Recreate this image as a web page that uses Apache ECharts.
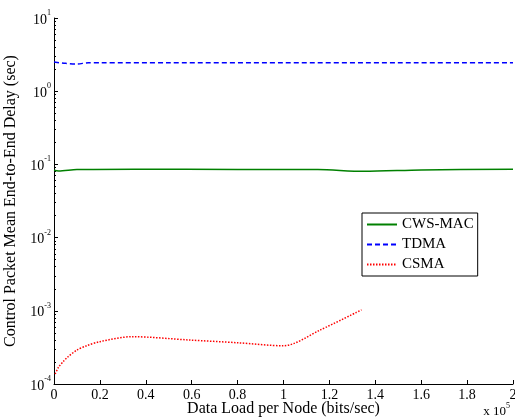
<!DOCTYPE html>
<html>
<head>
<meta charset="utf-8">
<script src="https://cdn.jsdelivr.net/npm/echarts@6/dist/echarts.min.js"></script>
<style>
  html, body { margin: 0; padding: 0; background: #fff; }
  #chart { width: 515px; height: 420px; }
</style>
</head>
<body>
<div id="chart"></div>
<script>
  // x values are in units of 1e5 bits/sec (axis shows "x 10^5")
  var xTicks = [0, 0.2, 0.4, 0.6, 0.8, 1, 1.2, 1.4, 1.6, 1.8, 2];
  var yExponents = [-4, -3, -2, -1, 0, 1];

  var cwsX = [0, 0.02, 0.1, 0.35, 0.8, 1.15, 1.35, 1.6, 2];
  var cwsY = [0.083, 0.081, 0.085, 0.086, 0.0855, 0.085, 0.0805, 0.084, 0.086];

  var tdmaX = [0, 0.05, 0.1, 0.15, 0.2, 0.5, 1, 1.5, 2];
  var tdmaY = [2.5, 2.4, 2.35, 2.45, 2.45, 2.45, 2.45, 2.45, 2.45];

  var csmaX = [0.005, 0.02, 0.04, 0.06, 0.1, 0.14, 0.2, 0.34, 0.59, 0.8, 1, 1.16, 1.34];
  var csmaY = [0.000137, 0.00017, 0.000202, 0.000234, 0.000291, 0.000331, 0.000379, 0.000443, 0.000399, 0.000366, 0.000333, 0.000547, 0.00103];

  function pairs(xs, ys) {
    var out = [];
    for (var i = 0; i < xs.length; i++) out.push([xs[i], ys[i]]);
    return out;
  }

  var font = '"Liberation Serif", "DejaVu Serif", serif';

  var myChart = echarts.init(document.getElementById('chart'));

  myChart.setOption({
    backgroundColor: '#ffffff',
    animation: false,
    textStyle: { fontFamily: font },
    grid: { left: 54, right: 2, top: 18, bottom: 36, outerBoundsMode: 'none', containLabel: false },
    legend: {
      orient: 'vertical',
      left: 362,
      top: 213,
      padding: [4, 4, 4, 4],
      itemWidth: 30,
      itemHeight: 10,
      itemGap: 5,
      borderColor: '#000',
      borderWidth: 1,
      backgroundColor: '#fff',
      itemStyle: { opacity: 0 },
      textStyle: { fontFamily: font, fontSize: 15, color: '#000' },
      data: ['CWS-MAC', 'TDMA', 'CSMA']
    },
    xAxis: {
      type: 'value',
      min: 0,
      max: 2,
      interval: 0.2,
      name: 'Data Load per Node (bits/sec)',
      nameLocation: 'middle',
      nameGap: 17,
      nameMoveOverlap: false,
      nameTextStyle: { fontFamily: font, fontSize: 16, color: '#000' },
      axisLine: { lineStyle: { color: '#000', width: 1 } },
      axisTick: { inside: true, length: 4, lineStyle: { color: '#000' } },
      splitLine: { show: false },
      axisLabel: {
        fontFamily: font, fontSize: 14, color: '#000', margin: 4,
        formatter: function (v) {
          return xTicks.indexOf(Math.round(v * 10) / 10) >= 0 ? String(Math.round(v * 10) / 10) : '';
        }
      }
    },
    yAxis: {
      type: 'log',
      logBase: 10,
      min: 1e-4,
      max: 10,
      name: 'Control Packet Mean End-to-End Delay (sec)',
      nameLocation: 'middle',
      nameGap: 35,
      nameMoveOverlap: false,
      nameTextStyle: { fontFamily: font, fontSize: 16, color: '#000' },
      axisLine: { show: true, lineStyle: { color: '#000', width: 1 } },
      axisTick: { inside: true, length: 4, lineStyle: { color: '#000' } },
      minorTick: { show: true, splitNumber: 9, length: 2, lineStyle: { color: '#000' } },
      splitLine: { show: false },
      axisLabel: {
        margin: 3,
        formatter: function (v) {
          var e = Math.round(Math.log10(v));
          return '{b|10}{s|' + e + '}';
        },
        rich: {
          b: { fontFamily: font, fontSize: 14, color: '#000', verticalAlign: 'bottom', lineHeight: 18 },
          s: { fontFamily: font, fontSize: 8, color: '#000', verticalAlign: 'top', lineHeight: 18, padding: [0, 0, 10, 0] }
        }
      }
    },
    graphic: [
      {
        type: 'text',
        right: 5,
        top: 402,
        style: {
          text: '{b|x 10}{s|5}',
          rich: {
            b: { fontFamily: font, fontSize: 13, fill: '#000', verticalAlign: 'bottom', lineHeight: 16 },
            s: { fontFamily: font, fontSize: 8, fill: '#000', verticalAlign: 'top', lineHeight: 16, padding: [0, 0, 8, 0] }
          }
        }
      }
    ],
    series: [
      {
        name: 'CWS-MAC',
        type: 'line',
        smooth: 0.3,
        symbol: 'none',
        lineStyle: { color: '#008000', width: 1.5, type: 'solid' },
        itemStyle: { color: '#008000' },
        data: pairs(cwsX, cwsY)
      },
      {
        name: 'TDMA',
        type: 'line',
        smooth: 0.3,
        symbol: 'none',
        lineStyle: { color: '#0000ff', width: 1.5, type: [5, 3] },
        itemStyle: { color: '#0000ff' },
        data: pairs(tdmaX, tdmaY)
      },
      {
        name: 'CSMA',
        type: 'line',
        smooth: 0.3,
        symbol: 'none',
        lineStyle: { color: '#ff0000', width: 1.5, type: [1.5, 1.5] },
        itemStyle: { color: '#ff0000' },
        data: pairs(csmaX, csmaY)
      }
    ]
  });
</script>
</body>
</html>
